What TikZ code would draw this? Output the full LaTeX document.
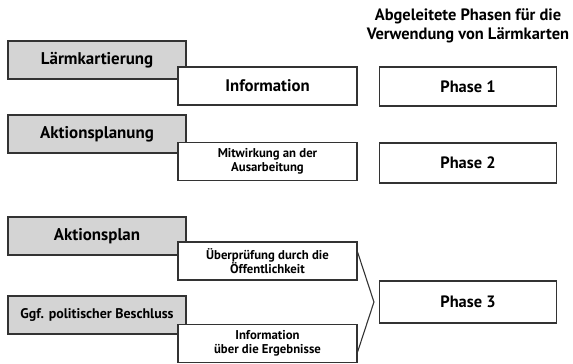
\documentclass[tikz,border=0pt]{standalone}
\usepackage{fontspec}
\setmainfont{PT Sans}
\usepackage{xcolor}
\usepackage{tikz}
\usetikzlibrary{positioning, calc}
\definecolor{boxgray}{HTML}{D4D4D4}
\definecolor{linegray}{HTML}{333333}
\tikzset{
  stagebox/.style={
    draw=linegray, line width=1.1pt, fill=boxgray, align=center,
    font=\bfseries\fontsize{17}{19}\selectfont,
    minimum width=178bp, minimum height=38bp, inner sep=2pt
  },
  partbox/.style={
    draw=linegray, line width=1.1pt, fill=white, align=center,
    font=\bfseries\fontsize{16.8}{18}\selectfont,
    minimum width=179bp, minimum height=38bp, inner sep=2pt
  },
  partboxsmall/.style={
    partbox, font=\bfseries\fontsize{12.8}{14}\selectfont
  },
  phasebox/.style={
    draw=linegray, line width=1.1pt, fill=white, align=center,
    font=\bfseries\fontsize{16.5}{18}\selectfont,
    minimum width=177bp, minimum height=40bp, inner sep=2pt
  },
  headlabel/.style={
    align=center, font=\bfseries\fontsize{16.5}{19}\selectfont
  },
  bracketline/.style={draw=linegray, line width=1.1pt},
}
\begin{document}
\begin{tikzpicture}[x=1bp, y=-1bp]
  \useasboundingbox (0,0) rectangle (573,363);

  % Header
  \node[headlabel] (head) at (468,26)
    {Abgeleitete Phasen für die\\Verwendung von Lärmkarten};

  % Lärmkartierung
  \node[stagebox] (kart) at (97,60) {Lärmkartierung};
  \node[partbox] (info) at (267.5,86) {Information};

  % Aktionsplanung
  \node[stagebox] (planung) at (97,134) {Aktionsplanung};
  \node[partboxsmall] (mitw) at (267.5,161.5)
    {Mitwirkung an der\\Ausarbeitung};

  % Aktionsplan
  \node[stagebox] (aplan) at (97,236) {Aktionsplan};
  \node[partboxsmall] (pruef) at (267.5,261)
    {Überprüfung durch die\\Öffentlichkeit};

  % Beschluss
  \node[stagebox] (beschl) at (97,315)
    {\fontsize{14}{16}\selectfont Ggf. politischer Beschluss};
  \node[partboxsmall] (ergeb) at (267.5,343.5)
    {Information\\über die Ergebnisse};

  % Phases
  \node[phasebox, minimum height=39bp] (ph1) at (468,86.5) {Phase 1};
  \node[phasebox] (ph2) at (468,163) {Phase 2};
  \node[phasebox, minimum height=42bp] (ph3) at (468,302) {Phase 3};

  % Bracket
  \coordinate (tip) at ($(ph3.west)+(-5,0)$);
  \draw[bracketline] ([yshift=9bp]pruef.east) -- (tip)
    -- ([yshift=-8.5bp]ergeb.east);
\end{tikzpicture}
\end{document}
